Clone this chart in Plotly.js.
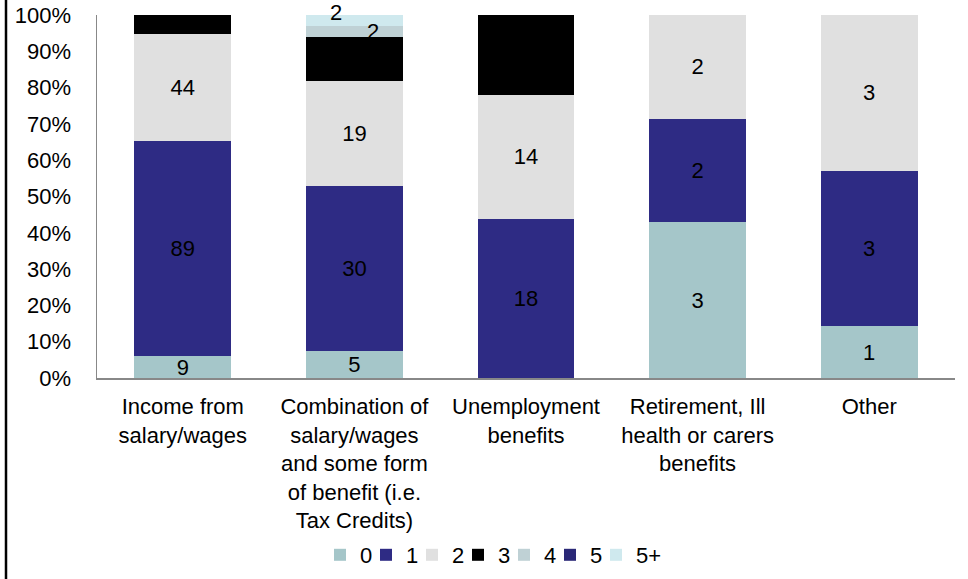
<!DOCTYPE html>
<html>
<head>
<meta charset="utf-8">
<script src="https://cdn.plot.ly/plotly-3.0.1.min.js"></script>
<style>html,body{margin:0;padding:0;background:#fff}#chart{width:968px;height:579px}</style>
</head>
<body>
<div id="chart"></div>
<script>
var categories = [
  "Income from<br>salary/wages",
  "Combination of<br>salary/wages<br>and some form<br>of benefit (i.e.<br>Tax Credits)",
  "Unemployment<br>benefits",
  "Retirement, Ill<br>health or carers<br>benefits",
  "Other"
];
var seriesNames = ["0", "1", "2", "3", "4", "5", "5+"];
var s0 = [9, 5, 0, 3, 1];
var s1 = [89, 30, 18, 2, 3];
var s2 = [44, 19, 14, 2, 3];
var s3 = [8, 8, 9, 0, 0];
var s4 = [0, 2, 0, 0, 0];
var s5 = [0, 0, 0, 0, 0];
var s5p = [0, 2, 0, 0, 0];
var seriesValues = [s0, s1, s2, s3, s4, s5, s5p];
var colors = ["#A5C6C9", "#2E2B84", "#E0E0E0", "#000000", "#BFD1D5", "#2A2877", "#CFE9EE"];

var FONT = "Liberation Sans, Arial, sans-serif";
// thin top segments get their labels as offset annotations (like the original)
var annotated = { 4: { xshift: 19, yshift: 0, pos: "mid" }, 6: { xshift: -18, yshift: 3, pos: "top" } };

var traces = seriesValues.map(function (vals, i) {
  return {
    type: "bar",
    name: seriesNames[i],
    x: categories,
    y: vals,
    marker: { color: colors[i], line: { width: 0 } },
    text: vals.map(function (v) { return v > 0 ? String(v) : ""; }),
    texttemplate: "%{text}",
    textposition: annotated[i] ? "none" : "inside",
    insidetextanchor: "middle",
    constraintext: "none",
    textangle: 0,
    textfont: { family: FONT, size: 22, color: "#000" },
    cliponaxis: false,
    width: 0.565,
    hoverinfo: "skip"
  };
});
// invisible spacer legend entry so the last legend label is not clipped
traces.push({
  type: "bar", name: " ", x: categories, y: categories.map(function () { return 0; }),
  marker: { color: "rgba(0,0,0,0)" }, showlegend: true, hoverinfo: "skip", width: 0.565
});

var annotations = [];
categories.forEach(function (c, j) {
  var total = 0;
  seriesValues.forEach(function (arr) { total += arr[j]; });
  var cum = 0;
  seriesValues.forEach(function (arr, i) {
    var v = arr[j];
    var start = cum;
    cum += v;
    var cfg = annotated[i];
    if (cfg && v > 0) {
      var yPct = cfg.pos === "top" ? 100 * cum / total : 100 * (start + v / 2) / total;
      annotations.push({
        x: c, y: yPct, xref: "x", yref: "y",
        text: String(v), showarrow: false,
        yanchor: "middle", xshift: cfg.xshift, yshift: cfg.yshift,
        font: { family: FONT, size: 22, color: "#000" }
      });
    }
  });
});

var L = 97, R = 13, T = 15, B = 201;
var W = 968, H = 579;
var pw = W - L - R, ph = H - T - B;
var layout = {
  width: W, height: H,
  margin: { l: L, r: R, t: T, b: B, pad: 0 },
  paper_bgcolor: "#fff",
  plot_bgcolor: "#fff",
  barmode: "stack",
  barnorm: "percent",
  showlegend: true,
  font: { family: FONT, size: 22, color: "#000" },
  xaxis: {
    showline: true, linecolor: "#888", linewidth: 1.5,
    ticks: "", showgrid: false, zeroline: false,
    tickfont: { family: FONT, size: 22, color: "#000" },
    ticklabelstandoff: 8,
    automargin: false,
    fixedrange: true
  },
  yaxis: {
    range: [0, 100], dtick: 10, tick0: 0,
    ticksuffix: "%",
    showline: true, linecolor: "#888", linewidth: 1.5,
    ticks: "", showgrid: false, zeroline: false,
    tickfont: { family: FONT, size: 22, color: "#000" },
    ticklabelstandoff: 20,
    automargin: false,
    fixedrange: true
  },
  legend: {
    orientation: "h",
    xref: "container", yref: "container",
    x: 320 / W, xanchor: "left",
    y: (H - 555) / H, yanchor: "middle",
    font: { family: FONT, size: 22, color: "#000" },
    traceorder: "normal",
    entrywidth: 1,
    itemwidth: 30,
    bgcolor: "rgba(0,0,0,0)"
  },
  annotations: annotations,
  shapes: [{
    type: "line", xref: "paper", yref: "paper",
    x0: (6 - L) / pw, x1: (6 - L) / pw,
    y0: (H - B - 0) / ph, y1: (H - B - H) / ph,
    line: { color: "#000", width: 2.5 }
  }]
};
Plotly.newPlot("chart", traces, layout, { displayModeBar: false, staticPlot: true });
</script>
</body>
</html>
